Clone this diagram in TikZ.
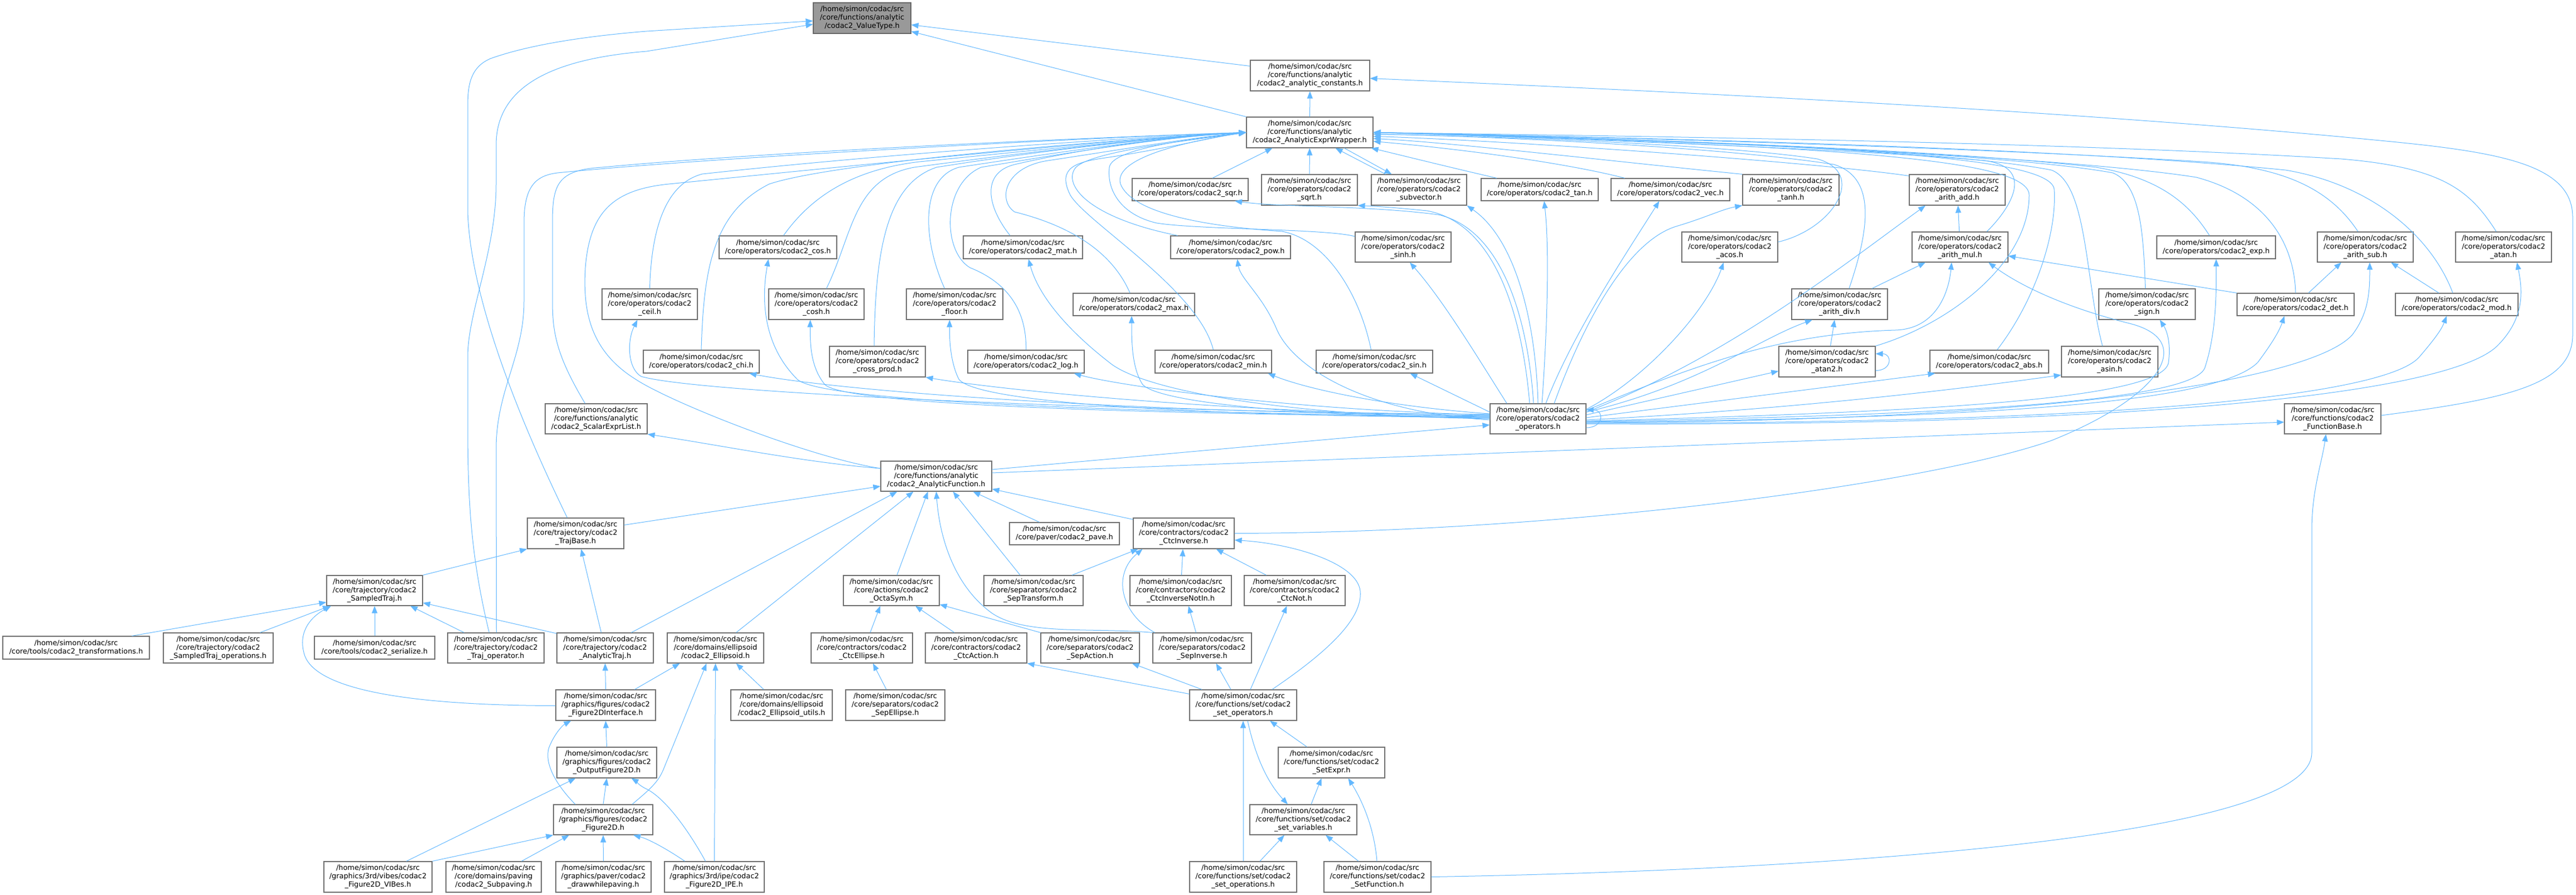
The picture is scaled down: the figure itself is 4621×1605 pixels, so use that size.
\documentclass[tikz,border=0pt]{standalone}
\usepackage{fontspec}
\setmainfont{DejaVu Sans}
\usetikzlibrary{arrows.meta}
\definecolor{edgec}{HTML}{63B8FF}
\definecolor{bordc}{HTML}{707070}
\definecolor{rootc}{HTML}{999999}
\definecolor{rootb}{HTML}{666666}
\newcommand\HP{/home/simon/codac/src\\}
\newcommand\mk[7][]{\node[nbox,#1, minimum width={#5-#3}, minimum height={#6-#4}] (#2) at ({(#3+#5)/2},{(#4+#6)/2}) {#7};}
\tikzset{
  nbox/.style={draw=bordc, line width=1.2pt, fill=white, align=center, inner sep=0pt, text=black, font=\fontsize{12.9pt}{15pt}\selectfont},
  edg/.style={draw=edgec, line width=1pt, -{Triangle[length=13pt,width=10pt]}},
}
\begin{document}
\begin{tikzpicture}[x=1pt,y=-1pt]
\useasboundingbox (0,0) rectangle (4621,1605);
% ---------- nodes ----------
\mk[fill=rootc,draw=rootb]{nvt}{1459}{5}{1634}{60}{\HP/core/functions/analytic\\/codac2\_ValueType.h}
\mk{ncst}{2243}{108}{2457}{163}{\HP/core/functions/analytic\\/codac2\_analytic\_constants.h}
\mk{nwr}{2236}{210}{2463}{265}{\HP/core/functions/analytic\\/codac2\_AnalyticExprWrapper.h}
\mk{nsqr}{2031}{320}{2239}{360}{\HP/core/operators/codac2\_sqr.h}
\mk{nsqrt}{2263}{313}{2435}{368}{\HP/core/operators/codac2\\\_sqrt.h}
\mk{nsv}{2460}{313}{2631}{368}{\HP/core/operators/codac2\\\_subvector.h}
\mk{ntan}{2657}{320}{2867}{360}{\HP/core/operators/codac2\_tan.h}
\mk{nvec}{2890}{320}{3103}{360}{\HP/core/operators/codac2\_vec.h}
\mk{ntanh}{3126}{313}{3299}{368}{\HP/core/operators/codac2\\\_tanh.h}
\mk{nadd}{3425}{313}{3597}{368}{\HP/core/operators/codac2\\\_arith\_add.h}
\mk{ncos}{1290}{423}{1501}{464}{\HP/core/operators/codac2\_cos.h}
\mk{nmat}{1728}{423}{1942}{464}{\HP/core/operators/codac2\_mat.h}
\mk{npow}{2100}{423}{2315}{464}{\HP/core/operators/codac2\_pow.h}
\mk{nsinh}{2431}{416}{2603}{470}{\HP/core/operators/codac2\\\_sinh.h}
\mk{nacos}{3017}{416}{3189}{470}{\HP/core/operators/codac2\\\_acos.h}
\mk{nmul}{3430}{416}{3602}{470}{\HP/core/operators/codac2\\\_arith\_mul.h}
\mk{nexp}{3869}{423}{4082}{464}{\HP/core/operators/codac2\_exp.h}
\mk{nsub}{4157}{416}{4329}{470}{\HP/core/operators/codac2\\\_arith\_sub.h}
\mk{natan}{4405}{416}{4577}{470}{\HP/core/operators/codac2\\\_atan.h}
\mk{nceil}{1080}{518}{1251}{573}{\HP/core/operators/codac2\\\_ceil.h}
\mk{ncosh}{1379}{518}{1550}{573}{\HP/core/operators/codac2\\\_cosh.h}
\mk{nfloor}{1626}{518}{1799}{573}{\HP/core/operators/codac2\\\_floor.h}
\mk{nmax}{1925}{526}{2143}{566}{\HP/core/operators/codac2\_max.h}
\mk{ndiv}{3214}{518}{3386}{573}{\HP/core/operators/codac2\\\_arith\_div.h}
\mk{nsign}{3765}{518}{3938}{573}{\HP/core/operators/codac2\\\_sign.h}
\mk{ndet}{4013}{526}{4223}{566}{\HP/core/operators/codac2\_det.h}
\mk{nmod}{4297}{526}{4517}{566}{\HP/core/operators/codac2\_mod.h}
\mk{nchi}{1154}{628}{1362}{669}{\HP/core/operators/codac2\_chi.h}
\mk{ncp}{1488}{621}{1660}{676}{\HP/core/operators/codac2\\\_cross\_prod.h}
\mk{nlog}{1736}{628}{1945}{669}{\HP/core/operators/codac2\_log.h}
\mk{nmin}{2072}{628}{2281}{669}{\HP/core/operators/codac2\_min.h}
\mk{nsin}{2361}{628}{2570}{669}{\HP/core/operators/codac2\_sin.h}
\mk{natwo}{3191}{621}{3364}{676}{\HP/core/operators/codac2\\\_atan2.h}
\mk{nabs}{3462}{628}{3675}{669}{\HP/core/operators/codac2\_abs.h}
\mk{nasin}{3698}{621}{3871}{676}{\HP/core/operators/codac2\\\_asin.h}
\mk{nsel}{978}{724}{1161}{778}{\HP/core/functions/analytic\\/codac2\_ScalarExprList.h}
\mk{nop}{2673}{724}{2845}{778}{\HP/core/operators/codac2\\\_operators.h}
\mk{nfb}{4098}{724}{4271}{778}{\HP/core/functions/codac2\\\_FunctionBase.h}
\mk{naf}{1580}{827}{1779}{881}{\HP/core/functions/analytic\\/codac2\_AnalyticFunction.h}
\mk{ntb}{946}{929}{1119}{984}{\HP/core/trajectory/codac2\\\_TrajBase.h}
\mk{npave}{1811}{937}{2008}{977}{\HP/core/paver/codac2\_pave.h}
\mk{nci}{2033}{929}{2214}{984}{\HP/core/contractors/codac2\\\_CtcInverse.h}
\mk{nst}{586}{1032}{758}{1086}{\HP/core/trajectory/codac2\\\_SampledTraj.h}
\mk{nocta}{1513}{1032}{1685}{1086}{\HP/core/actions/codac2\\\_OctaSym.h}
\mk{nstf}{1765}{1032}{1943}{1086}{\HP/core/separators/codac2\\\_SepTransform.h}
\mk{ncinn}{2027}{1032}{2209}{1086}{\HP/core/contractors/codac2\\\_CtcInverseNotIn.h}
\mk{ncnot}{2232}{1032}{2413}{1086}{\HP/core/contractors/codac2\\\_CtcNot.h}
\mk{ntrf}{5}{1141}{268}{1182}{\HP/core/tools/codac2\_transformations.h}
\mk{nsto}{293}{1135}{490}{1189}{\HP/core/trajectory/codac2\\\_SampledTraj\_operations.h}
\mk{nser}{564}{1141}{780}{1182}{\HP/core/tools/codac2\_serialize.h}
\mk{ntop}{803}{1135}{976}{1189}{\HP/core/trajectory/codac2\\\_Traj\_operator.h}
\mk{natr}{999}{1135}{1172}{1189}{\HP/core/trajectory/codac2\\\_AnalyticTraj.h}
\mk{nell}{1197}{1135}{1370}{1189}{\HP/core/domains/ellipsoid\\/codac2\_Ellipsoid.h}
\mk{ncel}{1455}{1135}{1637}{1189}{\HP/core/contractors/codac2\\\_CtcEllipse.h}
\mk{ncac}{1660}{1135}{1842}{1189}{\HP/core/contractors/codac2\\\_CtcAction.h}
\mk{nsac}{1867}{1135}{2044}{1189}{\HP/core/separators/codac2\\\_SepAction.h}
\mk{nsinv}{2068}{1135}{2245}{1189}{\HP/core/separators/codac2\\\_SepInverse.h}
\mk{nfti}{997}{1237}{1176}{1292}{\HP/graphics/figures/codac2\\\_Figure2DInterface.h}
\mk{neu}{1311}{1237}{1493}{1292}{\HP/core/domains/ellipsoid\\/codac2\_Ellipsoid\_utils.h}
\mk{nsep}{1517}{1237}{1695}{1292}{\HP/core/separators/codac2\\\_SepEllipse.h}
\mk{nso}{2134}{1237}{2326}{1292}{\HP/core/functions/set/codac2\\\_set\_operators.h}
\mk{nof}{999}{1340}{1178}{1395}{\HP/graphics/figures/codac2\\\_OutputFigure2D.h}
\mk{nsx}{2293}{1340}{2484}{1395}{\HP/core/functions/set/codac2\\\_SetExpr.h}
\mk{nft}{993}{1443}{1171}{1497}{\HP/graphics/figures/codac2\\\_Figure2D.h}
\mk{nsvar}{2242}{1443}{2434}{1497}{\HP/core/functions/set/codac2\\\_set\_variables.h}
\mk{nvib}{581}{1545}{775}{1600}{\HP/graphics/3rd/vibes/codac2\\\_Figure2D\_VIBes.h}
\mk{nspv}{800}{1545}{971}{1600}{\HP/core/domains/paving\\/codac2\_Subpaving.h}
\mk{ndwp}{997}{1545}{1168}{1600}{\HP/graphics/paver/codac2\\\_drawwhilepaving.h}
\mk{nipe}{1192}{1545}{1371}{1600}{\HP/graphics/3rd/ipe/codac2\\\_Figure2D\_IPE.h}
\mk{nsops}{2134}{1545}{2326}{1600}{\HP/core/functions/set/codac2\\\_set\_operations.h}
\mk{nsf}{2375}{1545}{2567}{1600}{\HP/core/functions/set/codac2\\\_SetFunction.h}
% ---------- edges to ValueType ----------
\draw[edg] ([yshift=17pt]ncst.west) -- ([yshift=-12pt]nvt.east);
\draw[edg] (nwr.north west) -- ([yshift=-24pt]nvt.east);
\draw[edg] ([xshift=-15pt]ntb.north) .. controls (960,810) and (845,560) .. (839,380) -- (839,190) .. controls (839,150) and (845,120) .. (880,105) .. controls (950,80) and (1050,65) .. (1160,56) -- ([yshift=-5pt]nvt.west);
\draw[edg] ([xshift=-12pt]ntop.north) .. controls (845,1000) and (839,900) .. (839,760) -- (839,640) .. controls (839,560) and (890,450) .. (890,330) -- (890,260) .. controls (890,150) and (1000,105) .. (1160,92) -- ([yshift=-11pt]nvt.west);
% ---------- edges to AnalyticExprWrapper (left fan) ----------
\draw[edg] ([xshift=1pt]ntop.north) -- (890,805) .. controls (890,700) and (940,640) .. (940,540) -- (940,400) .. controls (940,335) and (960,315) .. (1000,310) .. controls (1300,280) and (2000,245) .. (nwr.west);
\draw[edg] ([xshift=-20pt]nsel.north) .. controls (1000,640) and (991,600) .. (991,540) -- (991,400) .. controls (991,330) and (1000,305) .. (1080,300) .. controls (1400,270) and (2000,245) .. (nwr.west);
\draw[edg] ([yshift=14pt]naf.west) .. controls (1450,820) and (1200,720) .. (1140,680) .. controls (1060,630) and (1045,560) .. (1050,480) .. controls (1058,380) and (1100,340) .. (1200,330) .. controls (1600,290) and (2000,250) .. (nwr.west);
\draw[edg] (nceil.north) .. controls (1168,420) and (1190,330) .. (1260,312) .. controls (1600,275) and (2000,248) .. (nwr.west);
\draw[edg] (nchi.north) .. controls (1262,480) and (1280,380) .. (1380,330) .. controls (1500,290) and (2000,250) .. (nwr.west);
\draw[edg] ([xshift=10pt]ncos.north) .. controls (1450,360) and (1520,305) .. (1650,290) .. controls (1900,265) and (2100,245) .. (nwr.west);
\draw[edg] ([xshift=18pt]ncosh.north) .. controls (1530,420) and (1530,320) .. (1640,300) .. controls (1900,265) and (2100,245) .. (nwr.west);
\draw[edg] ([xshift=-6pt]ncp.north) .. controls (1570,450) and (1590,330) .. (1680,300) .. controls (1900,265) and (2100,245) .. (nwr.west);
\draw[edg] ([xshift=-18pt]nfloor.north) .. controls (1655,430) and (1650,320) .. (1720,300) .. controls (1950,265) and (2100,245) .. (nwr.west);
\draw[edg] (nlog.north) .. controls (1842,540) and (1790,500) .. (1740,480) .. controls (1690,450) and (1690,330) .. (1760,300) .. controls (1950,268) and (2100,245) .. (nwr.west);
\draw[edg] ([xshift=-23pt]nmat.north) .. controls (1770,370) and (1760,310) .. (1820,295) .. controls (1950,265) and (2100,245) .. (nwr.west);
\draw[edg] ([xshift=-7pt]nmax.north) .. controls (1990,440) and (1900,400) .. (1820,380) .. controls (1790,360) and (1800,300) .. (1880,288) .. controls (2000,270) and (2150,245) .. (nwr.west);
\draw[edg] (nmin.north) .. controls (2150,520) and (1950,400) .. (1920,350) .. controls (1895,300) and (1930,290) .. (1990,282) .. controls (2100,265) and (2180,245) .. (nwr.west);
\draw[edg] ([xshift=-95pt]npow.north) .. controls (1950,390) and (1905,330) .. (1930,300) .. controls (1960,270) and (2150,250) .. (nwr.west);
\draw[edg] ([xshift=40pt]nsqr.north) -- ([xshift=-67pt]nwr.south);
\draw[edg] ([yshift=19pt]nsinh.west) .. controls (2380,410) and (2150,412) .. (2075,400) .. controls (2010,385) and (1985,340) .. (1990,300) .. controls (1995,265) and (2150,248) .. (nwr.west);
\draw[edg] ([xshift=-6pt]nsin.north) .. controls (2440,530) and (2380,430) .. (2300,415) .. controls (2150,405) and (2030,380) .. (2010,330) .. controls (1995,280) and (2150,250) .. (nwr.west);
% ---------- wrapper, top row ----------
\draw[edg] (nsqrt) -- (nwr);
\draw[edg] ([xshift=-60pt]nsv.north) -- ([xshift=46pt]nwr.south);
\draw[edg] ([xshift=62pt]nwr.south) -- ([xshift=-49pt]nsv.north);
\draw[edg] ([xshift=-77pt]ntan.north) .. controls (2600,300) and (2500,275) .. ([xshift=-4pt]nwr.south east);
\draw[edg] ([xshift=-82pt]nvec.north) .. controls (2800,290) and (2600,265) .. ([yshift=-16pt]nwr.east);
\draw[edg] (ntanh.north west) .. controls (2900,290) and (2600,255) .. ([yshift=-11pt]nwr.east);
\draw[edg] ([yshift=-3pt]nadd.north west) .. controls (3250,290) and (2700,252) .. ([yshift=-7pt]nwr.east);
\draw[edg] ([yshift=9pt]nacos.east) .. controls (3290,410) and (3350,310) .. (3260,285) .. controls (3100,260) and (2700,245) .. ([yshift=-3pt]nwr.east);
\draw[edg] ([xshift=17pt]ndiv.north) .. controls (3350,420) and (3370,320) .. (3290,295) .. controls (3100,265) and (2700,245) .. ([yshift=-3pt]nwr.east);
\draw[edg] ([xshift=48pt]nmul.north) .. controls (3610,370) and (3650,300) .. (3560,288) .. controls (3300,265) and (2700,245) .. (nwr.east);
\draw[edg] (natwo.north east) .. controls (3500,580) and (3640,470) .. (3640,350) .. controls (3640,285) and (3300,262) .. (nwr.east);
\draw[edg] ([xshift=14pt]nabs.north) .. controls (3650,540) and (3690,420) .. (3685,340) .. controls (3680,280) and (3300,260) .. (nwr.east);
\draw[edg] ([xshift=-13pt]nasin.north) .. controls (3740,500) and (3745,330) .. (3680,305) .. controls (3500,270) and (3000,250) .. (nwr.east);
\draw[edg] ([xshift=-3pt]nsign.north) .. controls (3845,420) and (3840,330) .. (3790,310) .. controls (3600,275) and (3000,250) .. (nwr.east);
\draw[edg] ([xshift=-12pt]nexp.north) .. controls (3930,370) and (3880,320) .. (3760,300) .. controls (3500,270) and (3000,250) .. (nwr.east);
\draw[edg] (ndet.north) .. controls (4115,430) and (4060,350) .. (3940,318) .. controls (3700,280) and (3000,250) .. (nwr.east);
\draw[edg] ([xshift=-13pt]nsub.north) .. controls (4180,340) and (4100,300) .. (3950,290) .. controls (3600,268) and (3000,248) .. (nwr.east);
\draw[edg] ([xshift=-7pt]nmod.north) .. controls (4360,420) and (4250,330) .. (4100,305) .. controls (3700,265) and (3000,248) .. (nwr.east);
\draw[edg] ([xshift=-13pt]natan.north) .. controls (4430,340) and (4380,300) .. (4200,285) .. controls (3700,255) and (3000,245) .. (nwr.east);
\draw[edg] (nwr) -- (ncst);
\draw[edg] ([yshift=6pt]nfb.east) .. controls (4500,715) and (4615,690) .. (4615,600) -- (4615,390) .. controls (4615,300) and (4500,275) .. (4300,255) .. controls (3700,195) and (2900,160) .. ([yshift=-5pt]ncst.east);
% ---------- arith ----------
\draw[edg] (nmul) -- (nadd);
\draw[edg] ([xshift=58pt]ndiv.north) -- ([xshift=-62pt]nmul.south);
\draw[edg] ([xshift=6pt]natwo.north) -- ([xshift=-9pt]ndiv.south);
\draw[edg] (ndet.north west) -- ([yshift=-16pt]nmul.east);
\draw[edg] ([xshift=23pt]ndet.north) -- ([xshift=-43pt]nsub.south);
\draw[edg] ([xshift=-32pt]nmod.north) -- ([xshift=46pt]nsub.south);
\draw[edg] ([yshift=-16pt]natwo.east) .. controls +(30,0) and +(30,0) .. ([yshift=14pt]natwo.east);
\draw[edg] ([yshift=-16pt]nop.east) .. controls +(32,0) and +(32,0) .. ([yshift=16pt]nop.east);
% ---------- operators.h to operators ----------
\draw[edg] ([xshift=-56pt]nop.north) .. controls (2650,640) and (2590,540) .. ([xshift=12pt]nsinh.south);
\draw[edg] ([yshift=12pt]nop.west) -- ([xshift=64pt]nsin.south);
\draw[edg] ([xshift=-15pt]nop.north) .. controls (2730,560) and (2680,400) .. (2560,378) .. controls (2500,372) and (2470,370) .. (nsqrt.south east);
\draw[edg] ([xshift=-8pt]nop.north) .. controls (2740,560) and (2690,410) .. (2580,385) .. controls (2450,368) and (2300,372) .. ([xshift=80pt]nsqr.south);
\draw[edg] (nop.north) .. controls (2755,580) and (2720,430) .. (nsv.south east);
\draw[edg] ([xshift=7pt]nop.north) .. controls (2775,600) and (2780,450) .. ([xshift=8pt]ntan.south);
\draw[edg] ([xshift=14pt]nop.north) .. controls (2820,600) and (2920,450) .. ([xshift=-20pt]nvec.south);
\draw[edg] ([xshift=29pt]nop.north) .. controls (2840,580) and (2920,430) .. (3010,405) .. controls (3060,390) and (3090,375) .. (ntanh.south west);
\draw[edg] ([yshift=17pt]nop.east) .. controls (2950,680) and (3060,560) .. ([xshift=-11pt]nacos.south);
\draw[edg] ([yshift=12pt]nop.east) .. controls (3100,640) and (3300,480) .. ([xshift=-57pt]nadd.south);
\draw[edg] ([yshift=12pt]nop.east) .. controls (3050,690) and (3150,610) .. ([xshift=-49pt]ndiv.south);
\draw[edg] ([yshift=7pt]nop.east) -- ([yshift=-17pt]natwo.west);
\draw[edg] ([yshift=15pt]nop.east) .. controls (3050,650) and (3200,598) .. (3400,592) .. controls (3470,590) and (3495,530) .. ([xshift=-15pt]nmul.south);
\draw[edg] ([yshift=2pt]nop.east) -- ([xshift=10pt]nabs.south west);
\draw[edg] ([yshift=-2pt]nop.east) .. controls (3200,735) and (3500,700) .. ([yshift=-24pt]nasin.west);
\draw[edg] ([yshift=-4pt]nop.east) .. controls (3400,740) and (3880,720) .. (3890,650) .. controls (3895,610) and (3885,590) .. ([xshift=23pt]nsign.south);
\draw[edg] ([yshift=-5pt]nop.east) .. controls (3500,745) and (3930,720) .. (3955,660) .. controls (3975,600) and (3976,530) .. (nexp.south);
\draw[edg] ([yshift=-6pt]nop.east) .. controls (3600,750) and (3980,720) .. (4050,650) .. controls (4080,610) and (4090,590) .. ([xshift=-20pt]ndet.south);
\draw[edg] ([yshift=-7pt]nop.east) .. controls (3700,755) and (4150,680) .. (4220,600) .. controls (4250,560) and (4251,520) .. ([xshift=8pt]nsub.south);
\draw[edg] ([yshift=-8pt]nop.east) .. controls (3800,760) and (4280,710) .. (4340,640) .. controls (4370,605) and (4380,590) .. ([xshift=-18pt]nmod.south);
\draw[edg] ([yshift=-9pt]nop.east) .. controls (3900,765) and (4400,700) .. (4480,620) .. controls (4530,570) and (4525,520) .. ([xshift=24pt]natan.south);
\draw[edg] ([yshift=8pt]nop.west) .. controls (2000,738) and (1250,705) .. (1150,675) .. controls (1125,660) and (1125,610) .. ([xshift=-22pt]nceil.south);
\draw[edg] ([yshift=6pt]nop.west) .. controls (2000,740) and (1500,700) .. ([xshift=86pt]nchi.south);
\draw[edg] ([yshift=4pt]nop.west) .. controls (2000,740) and (1470,720) .. (1430,680) .. controls (1370,620) and (1365,540) .. ([xshift=-17pt]ncos.south);
\draw[edg] ([yshift=3pt]nop.west) .. controls (2000,742) and (1520,725) .. (1480,690) .. controls (1455,660) and (1453,620) .. ([xshift=-11pt]ncosh.south);
\draw[edg] ([yshift=5pt]nop.west) .. controls (2200,740) and (1800,700) .. (ncp.south east);
\draw[edg] ([yshift=2pt]nop.west) .. controls (2100,745) and (1750,720) .. (1720,680) .. controls (1705,650) and (1703,610) .. ([xshift=-9pt]nfloor.south);
\draw[edg] ([yshift=7pt]nop.west) .. controls (2300,735) and (2000,690) .. ([xshift=86pt]nlog.south);
\draw[edg] (nop.west) .. controls (2300,745) and (2050,700) .. (1990,650) .. controls (1900,580) and (1860,520) .. ([xshift=10pt]nmat.south);
\draw[edg] ([yshift=1pt]nop.west) .. controls (2300,745) and (2080,720) .. (2050,690) .. controls (2030,660) and (2030,610) .. ([xshift=-4pt]nmax.south);
\draw[edg] ([yshift=9pt]nop.west) .. controls (2500,730) and (2350,700) .. ([xshift=98pt]nmin.south);
\draw[edg] ([yshift=-2pt]nop.west) .. controls (2450,740) and (2320,660) .. (2290,590) .. controls (2265,530) and (2225,500) .. ([xshift=12pt]npow.south);
% ---------- AnalyticFunction ----------
\draw[edg] ([yshift=12pt]naf.east) -- ([yshift=-11pt]nop.west);
\draw[edg] ([yshift=6pt]naf.east) -- ([yshift=-6pt]nfb.west);
\draw[edg] ([yshift=14pt]naf.west) .. controls (1450,830) and (1300,800) .. (nsel.south east);
\draw[edg] ([yshift=15pt]ntb.east) -- ([yshift=-18pt]naf.west);
\draw[edg] ([xshift=47pt]natr.north) -- ([xshift=-70pt]naf.south);
\draw[edg] ([xshift=37pt]nell.north) -- ([xshift=-41pt]naf.south);
\draw[edg] ([xshift=10pt]nocta.north) -- ([xshift=-15pt]naf.south);
\draw[edg] (nsinv.north west) .. controls (1960,1125) and (1840,1140) .. (1780,1100) .. controls (1710,1050) and (1685,960) .. (naf.south);
\draw[edg] ([xshift=-24pt]nstf.north) -- ([xshift=30pt]naf.south);
\draw[edg] ([xshift=-45pt]npave.north) -- ([xshift=66pt]naf.south);
\draw[edg] ([yshift=25pt]nci.west) -- ([yshift=-23pt]naf.east);
% ---------- CtcInverse ----------
\draw[edg] ([xshift=69pt]nstf.north) -- ([xshift=-82pt]nci.south);
\draw[edg] ([xshift=-85pt]nsinv.north) .. controls (2010,1100) and (1995,1030) .. ([xshift=-74pt]nci.south);
\draw[edg] (ncinn) -- (nci);
\draw[edg] ([xshift=-51pt]ncnot.north) -- ([xshift=58pt]nci.south);
\draw[edg] ([xshift=-11pt]nsinv.north) -- ([xshift=14pt]ncinn.south);
\draw[edg] ([xshift=52pt]nso.north) .. controls (2380,1170) and (2445,1110) .. (2440,1060) .. controls (2435,1010) and (2320,975) .. ([yshift=-12pt]nci.east);
\draw[edg] (nci.east) .. controls (2800,955) and (3450,870) .. (3680,790) .. controls (3880,710) and (3940,610) .. (3820,580) .. controls (3700,550) and (3620,510) .. ([xshift=51pt]nmul.south);
% ---------- set ----------
\draw[edg] ([yshift=20pt]nso.west) -- (ncac.south east);
\draw[edg] ([xshift=-74pt]nso.north) -- ([xshift=75pt]nsac.south);
\draw[edg] ([xshift=-22pt]nso.north) -- ([xshift=25pt]nsinv.south);
\draw[edg] ([xshift=13pt]nso.north) -- ([xshift=-14pt]ncnot.south);
\draw[edg] ([xshift=-44pt]nsx.north) -- ([xshift=48pt]nso.south);
\draw[edg] ([xshift=8pt]nso.south) .. controls (2255,1370) and (2280,1410) .. ([xshift=-28pt]nsvar.north);
\draw[edg] ([xshift=14pt]nsvar.north) -- ([xshift=-18pt]nsx.south);
\draw[edg] (nsops) -- (nso);
\draw[edg] ([xshift=30pt]nsops.north) -- ([xshift=-34pt]nsvar.south);
\draw[edg] ([xshift=-34pt]nsf.north) -- ([xshift=40pt]nsvar.south);
\draw[edg] ([xshift=-1pt]nsf.north) .. controls (2465,1480) and (2440,1430) .. ([xshift=30pt]nsx.south);
\draw[edg] (nsf.east) .. controls (3300,1560) and (4147,1500) .. (4147,1350) -- (4147,950) .. controls (4147,880) and (4165,830) .. ([xshift=-12pt]nfb.south);
% ---------- actions / separators ----------
\draw[edg] ([xshift=15pt]ncel.north) -- ([xshift=-20pt]nocta.south);
\draw[edg] ([xshift=-39pt]ncac.north) -- ([xshift=43pt]nocta.south);
\draw[edg] (nsac.north west) -- ([yshift=-25pt]nocta.east);
\draw[edg] ([xshift=-16pt]nsep.north) -- ([xshift=20pt]ncel.south);
\draw[edg] ([xshift=-32pt]neu.north) -- ([xshift=37pt]nell.south);
% ---------- trajectories ----------
\draw[edg] (nst.north east) -- (ntb.south west);
\draw[edg] ([xshift=-7pt]natr.north) -- ([xshift=10pt]ntb.south);
\draw[edg] ([xshift=100pt]ntrf.north) -- ([yshift=-21pt]nst.west);
\draw[edg] ([xshift=75pt]nsto.north) -- ([xshift=-80pt]nst.south);
\draw[edg] (nser) -- (nst);
\draw[edg] ([xshift=-57pt]ntop.north) -- ([xshift=64pt]nst.south);
\draw[edg] ([yshift=26pt]natr.west) -- ([yshift=-22pt]nst.east);
\draw[edg] ([yshift=-1pt]nfti.west) .. controls (750,1265) and (560,1240) .. (545,1170) .. controls (535,1130) and (560,1105) .. ([xshift=-78pt]nst.south);
\draw[edg] (nfti.north) -- (natr.south);
\draw[edg] ([xshift=52pt]nfti.north) -- ([xshift=-64pt]nell.south);
% ---------- figures ----------
\draw[edg] (nof.north) -- (nfti.south);
\draw[edg] ([xshift=-50pt]nft.north) .. controls (1000,1410) and (975,1370) .. (985,1340) .. controls (995,1315) and (1010,1300) .. ([xshift=-62pt]nfti.south);
\draw[edg] (nft.north) -- (nof.south);
\draw[edg] ([xshift=52pt]nft.north) .. controls (1160,1420) and (1180,1405) .. (1190,1380) -- ([xshift=-16pt]nell.south);
\draw[edg] ([xshift=-16pt]nipe.north) .. controls (1230,1480) and (1190,1430) .. (1160,1415) .. controls (1145,1408) and (1140,1400) .. ([xshift=44pt]nof.south);
\draw[edg] ([xshift=-53pt]nipe.north) .. controls (1200,1525) and (1165,1505) .. ([xshift=54pt]nft.south);
\draw[edg] (nipe.north) -- (nell.south);
\draw[edg] ([xshift=51pt]nvib.north) -- ([xshift=-56pt]nof.south);
\draw[edg] (nvib.north east) -- (nft.south west);
\draw[edg] ([xshift=50pt]nspv.north) -- ([xshift=-61pt]nft.south);
\draw[edg] (ndwp.north) -- (nft.south);
\end{tikzpicture}
\end{document}
